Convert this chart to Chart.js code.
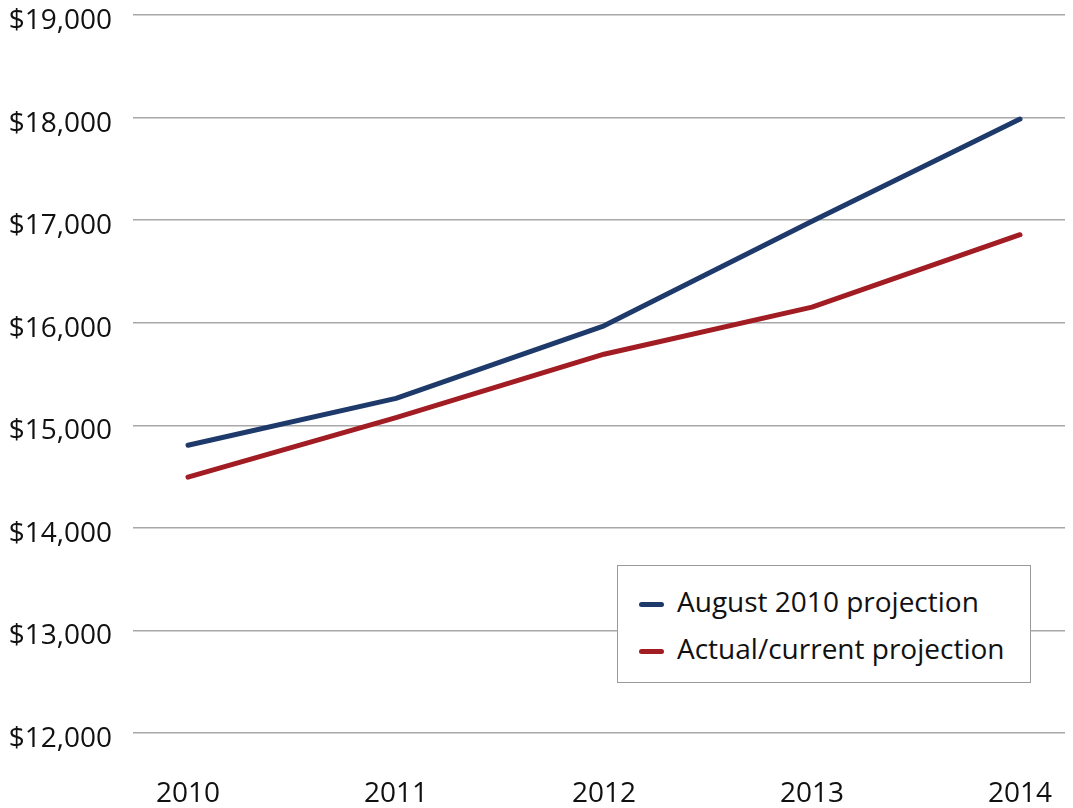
<!DOCTYPE html>
<html>
<head>
<meta charset="utf-8">
<script src="https://cdn.jsdelivr.net/npm/chart.js@4"></script>
<style>
  html, body { margin: 0; padding: 0; background: #fff; }
  #wrap { position: relative; width: 1073px; height: 808px; }
  #legend {
    position: absolute; left: 617px; top: 565px; width: 412px; height: 116px;
    border: 1px solid #9a9a9a; background: #fff; box-sizing: content-box;
    font-family: "Open Sans", sans-serif; font-size: 28px; color: #111;
  }
  #legend .item { position: absolute; left: 21px; height: 40px; line-height: 40px; white-space: nowrap; }
  #legend .swatch { display: inline-block; width: 25px; height: 5px; border-radius: 3px; vertical-align: middle; margin-right: 13px; }
</style>
</head>
<body>
<div id="wrap">
  <canvas id="chart"></canvas>
  <div id="legend"></div>
</div>
<script>
// data
const years = [2010, 2011, 2012, 2013, 2014];
const augustProjection = [14805, 15262, 15970, 16990, 17985];
const actualProjection = [14495, 15075, 15693, 16152, 16858];
const seriesNames = ["August 2010 projection", "Actual/current projection"];
const yTicks = [12000, 13000, 14000, 15000, 16000, 17000, 18000, 19000];

const colors = ["#1e3a6b", "#a11d23"];

const toPoints = vals => years.map((y, i) => ({ x: y, y: vals[i] }));

const chart = new Chart(document.getElementById("chart"), {
    type: "line",
    data: {
        datasets: [
            { label: seriesNames[0], data: toPoints(augustProjection), borderColor: colors[0], backgroundColor: colors[0] },
            { label: seriesNames[1], data: toPoints(actualProjection), borderColor: colors[1], backgroundColor: colors[1] }
        ]
    },
    options: {
        responsive: true,
        maintainAspectRatio: false,
        animation: false,
        layout: { padding: { top: 15, right: 8, left: 0, bottom: 0 } },
        elements: {
            line: { borderWidth: 5, tension: 0, borderCapStyle: "round", borderJoinStyle: "round" },
            point: { radius: 0 }
        },
        plugins: { legend: { display: false }, tooltip: { enabled: false } },
        scales: {
            x: {
                type: "linear",
                min: 2009.7356,
                max: 2014.2163,
                afterBuildTicks: axis => { axis.ticks = years.map(v => ({ value: v })); },
                afterFit: axis => {
                    axis.height = 75;
                    axis.paddingLeft = 0;
                    axis.paddingRight = 0;
                },
                grid: { display: false },
                border: { display: false },
                ticks: {
                    padding: 36,
                    color: "#111",
                    maxRotation: 0,
                    font: { family: "Open Sans", size: 28 },
                    callback: v => String(v)
                }
            },
            y: {
                min: 12000,
                max: 19000,
                afterBuildTicks: axis => { axis.ticks = yTicks.map(v => ({ value: v })); },
                afterFit: axis => {
                    axis.width = 133;
                    axis.paddingTop = 0;
                    axis.paddingBottom = 0;
                },
                grid: { color: "#a8a8a8", lineWidth: 1.5, drawTicks: false },
                border: { display: false },
                ticks: {
                    padding: 21,
                    labelOffset: 6,
                    color: "#111",
                    font: { family: "Open Sans", size: 28 },
                    callback: v => "$" + v.toLocaleString("en-US")
                }
            }
        }
    }
});

// legend built from the datasets
const legend = document.getElementById("legend");
chart.data.datasets.forEach((ds, i) => {
    const item = document.createElement("div");
    item.className = "item";
    item.style.top = (15 + i * 47) + "px";
    item.innerHTML = '<span class="swatch" style="background:' + ds.borderColor + '"></span>' + ds.label;
    legend.appendChild(item);
});
</script>
</body>
</html>
